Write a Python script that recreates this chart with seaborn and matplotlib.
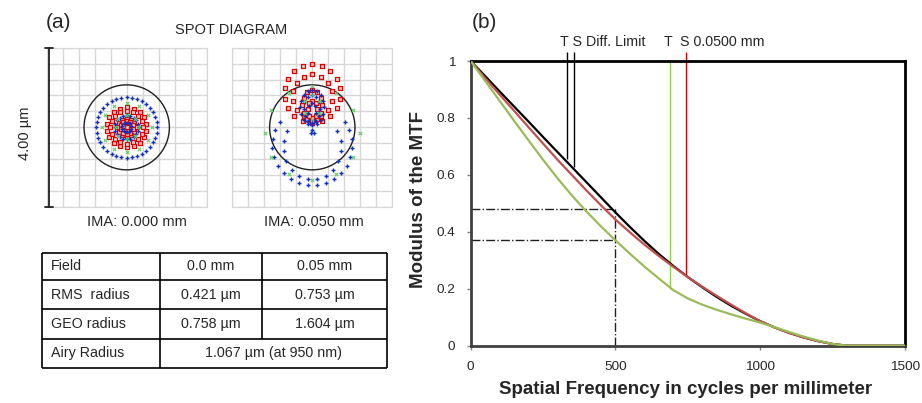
import numpy as np
import pandas as pd
import matplotlib.pyplot as plt
from matplotlib.patches import Circle
import seaborn as sns

W, H = 922, 403

# ---- panel (b): MTF curves ----
freq = [0, 50, 100, 150, 200, 250, 300, 350, 400, 450, 500, 550, 600, 650, 700, 750,
        800, 850, 900, 950, 1000, 1050, 1100, 1150, 1200, 1250, 1300, 1350, 1400, 1450, 1500]
mtf_diff = [1.0, 0.947, 0.893, 0.840, 0.787, 0.733, 0.680, 0.627, 0.574, 0.521, 0.468,
            0.417, 0.368, 0.322, 0.280, 0.241, 0.205, 0.171, 0.140, 0.112, 0.086,
            0.064, 0.045, 0.029, 0.016, 0.006, 0.0, 0.0, 0.0, 0.0, 0.0]
mtf_sag = [1.0, 0.940, 0.882, 0.825, 0.767, 0.710, 0.653, 0.599, 0.545, 0.493, 0.443,
           0.398, 0.355, 0.315, 0.277, 0.241, 0.207, 0.175, 0.144, 0.114, 0.086,
           0.064, 0.045, 0.029, 0.016, 0.006, 0.0, 0.0, 0.0, 0.0, 0.0]
mtf_tan = [1.0, 0.930, 0.860, 0.790, 0.721, 0.653, 0.588, 0.527, 0.471, 0.419, 0.370,
           0.323, 0.278, 0.236, 0.195, 0.166, 0.144, 0.126, 0.110, 0.095, 0.081,
           0.065, 0.048, 0.032, 0.018, 0.006, 0.0, 0.0, 0.0, 0.0, 0.0]

mark_freq = [331, 356, 687, 742]
mark_mtf = [0.656, 0.628, 0.198, 0.244]
mark_top = [1.033, 1.033, 1.0, 1.033]
mark_color = ['black', 'black', '#92D050', '#E00000']

guide_freq = 500
guide_mtf = [0.48, 0.37]

# ---- panel (a): spot diagram rings (µm), angle measured from the top ----
ring_spot = [1, 1, 1, 1, 1, 1, 1, 1, 1, 1, 1,
             2, 2, 2, 2, 2, 2, 2, 2, 2, 2, 2, 2]
ring_color = ['blue', 'blue', 'blue', 'red', 'red', 'red', 'red', 'red', 'red', 'green', 'green',
              'red', 'red', 'red', 'red', 'blue', 'blue', 'blue', 'blue', 'blue', 'blue',
              'green', 'green']
ring_cy = [0, 0, 0, 0, 0, 0, 0, 0, 0, 0, 0,
           0.85, 0.78, 0.55, 0.45, -0.45, -0.50, 0.50, 0.45, 0.35, -0.12, -0.15, 0.50]
ring_rx = [0.76, 0.30, 0.12, 0.50, 0.41, 0.22, 0.16, 0.08, 0.0, 0.62, 0.30,
           0.70, 0.50, 0.25, 0.12, 1.00, 0.72, 0.30, 0.20, 0.10, 0.05, 1.18, 0.20]
ring_ry = [0.76, 0.30, 0.12, 0.50, 0.41, 0.22, 0.16, 0.08, 0.0, 0.62, 0.30,
           0.74, 0.55, 0.38, 0.22, 1.00, 0.82, 0.45, 0.35, 0.25, 0.05, 1.18, 0.30]
ring_n = [36, 20, 10, 18, 16, 12, 10, 6, 1, 12, 8,
          18, 14, 12, 8, 20, 14, 16, 12, 8, 3, 12, 6]
ring_a0 = [0] * 11 + [0, 0, 0, 0, 55, 60, 0, 0, 0, 0, 0, 0]
ring_a1 = [360] * 11 + [360, 360, 360, 360, 305, 300, 360, 360, 360, 360, 360, 360]

airy_radius = 1.067
spot_labels = ['IMA: 0.000 mm', 'IMA: 0.050 mm']

table_rows = ['Field', 'RMS  radius', 'GEO radius', 'Airy Radius']
table_col1 = ['0.0 mm', '0.421 µm', '0.758 µm', '1.067 µm (at 950 nm)']
table_col2 = ['0.05 mm', '0.753 µm', '1.604 µm', None]

sns.set_style('white')
plt.rcParams['font.family'] = ['Liberation Sans', 'DejaVu Sans']


def box(x0, y0, x1, y1):
    return [x0 / W, 1 - y1 / H, (x1 - x0) / W, (y1 - y0) / H]


pts = []
for sp, c, cy, rx, ry, n, a0, a1 in zip(ring_spot, ring_color, ring_cy, ring_rx, ring_ry,
                                        ring_n, ring_a0, ring_a1):
    ang = np.radians(np.linspace(a0, a1, n, endpoint=(a1 - a0) < 360))
    for a in ang:
        pts.append((sp, c, rx * np.sin(a), cy + ry * np.cos(a)))
spots = pd.DataFrame(pts, columns=['spot', 'color', 'x', 'y'])

fig = plt.figure(figsize=(W / 100, H / 100), dpi=100)
canvas = fig.add_axes([0, 0, 1, 1])
canvas.set_xlim(0, W)
canvas.set_ylim(H, 0)
canvas.axis('off')
canvas.set_zorder(5)

styles = {
    'red': dict(marker='s', s=7, color='#F6C8C8', edgecolor='#E00000', linewidth=0.9),
    'blue': dict(marker='+', s=9, color='#1030C0', linewidth=1.0),
    'green': dict(marker='x', s=6, color='#66CC66', linewidth=0.8),
}

for i, x0 in enumerate([46.7, 232.3]):
    ax = fig.add_axes(box(x0, 47.7, x0 + 160, 207))
    sub = spots[spots.spot == i + 1]
    for c in ['red', 'blue', 'green']:
        d = sub[sub.color == c]
        sns.scatterplot(data=d, x='x', y='y', ax=ax, legend=False, zorder=3, **styles[c])
    ax.add_patch(Circle((0, 0), airy_radius, fill=False, ec='#202020', lw=1, zorder=2))
    ax.set_xlim(-2, 2)
    ax.set_ylim(-2, 2)
    ax.set_xticks(np.linspace(-2, 2, 11))
    ax.set_yticks(np.linspace(-2, 2, 11))
    ax.grid(True, color='#D6D6D6', lw=1)
    ax.tick_params(length=0, labelbottom=False, labelleft=False)
    for s in ax.spines.values():
        s.set_color('#D6D6D6')
    ax.set_xlabel('')
    ax.set_ylabel('')
    canvas.text(x0 + 80 + (10 if i == 0 else 1.5), 222, spot_labels[i], ha='center', va='center',
                fontsize=10.5)

# scale bar
canvas.plot([48.5, 48.5], [47.7, 206.7], color='#202020', lw=1.3)
canvas.plot([45, 53], [47.7, 47.7], color='#202020', lw=1.3)
canvas.plot([45, 53], [206.7, 206.7], color='#202020', lw=1.3)
canvas.text(25, 133, '4.00 µm', rotation=90, ha='center', va='center', fontsize=10.5)
canvas.text(46, 23, '(a)', ha='left', va='center', fontsize=15)
canvas.text(231.5, 30, 'SPOT DIAGRAM', ha='center', va='center', fontsize=10.5)

# table
tx = [42.3, 160, 262.3, 386.7]
ty = [252.7, 280, 309.3, 338.7, 368.3]
canvas.hlines(ty, tx[0], tx[-1], color='black', lw=1.2)
canvas.vlines([tx[0], tx[1], tx[3]], ty[0], ty[-1], color='black', lw=1.2)
canvas.vlines(tx[2], ty[0], ty[3], color='black', lw=1.2)
for r in range(4):
    yc = (ty[r] + ty[r + 1]) / 2
    canvas.text(tx[0] + 9, yc, table_rows[r], ha='left', va='center', fontsize=10.3)
    if table_col2[r] is None:
        canvas.text((tx[1] + tx[3]) / 2, yc, table_col1[r], ha='center', va='center', fontsize=10.3)
    else:
        canvas.text((tx[1] + tx[2]) / 2, yc, table_col1[r], ha='center', va='center', fontsize=10.3)
        canvas.text((tx[2] + tx[3]) / 2, yc, table_col2[r], ha='center', va='center', fontsize=10.3)

# MTF panel
mtf = pd.DataFrame({
    'freq': freq * 3,
    'mtf': mtf_diff + mtf_sag + mtf_tan,
    'curve': ['diff'] * len(freq) + ['S'] * len(freq) + ['T'] * len(freq),
})
ax = fig.add_axes(box(470.7, 61, 905, 345.7))
sns.lineplot(data=mtf, x='freq', y='mtf', hue='curve', ax=ax, legend=False, sort=False,
             palette={'diff': '#000000', 'S': '#C0504D', 'T': '#9BBB59'}, lw=1.6, zorder=3)
ax.vlines(mark_freq, mark_mtf, mark_top, colors=mark_color, lw=1, clip_on=False, zorder=2)
ax.hlines(guide_mtf, 0, guide_freq, colors='#202020', lw=1, linestyles='-.', zorder=2)
ax.vlines(guide_freq, 0, guide_mtf[0], colors='#202020', lw=1, linestyles='-.', zorder=2)
ax.set_xlim(0, 1500)
ax.set_ylim(0, 1)
ax.set_xticks([0, 500, 1000, 1500])
ax.set_yticks([0, 0.2, 0.4, 0.6, 0.8, 1])
ax.set_yticklabels(['0', '0.2', '0.4', '0.6', '0.8', '1'])
ax.tick_params(labelsize=9.7, length=3, width=1, color='#808080', pad=8, direction='out',
               bottom=True, left=True)
for k in ['top', 'right']:
    ax.spines[k].set_color('black')
    ax.spines[k].set_linewidth(2)
for k in ['left', 'bottom']:
    ax.spines[k].set_color('#404040')
    ax.spines[k].set_linewidth(2)
ax.set_xlabel('')
ax.set_ylabel('')

canvas.text(686, 389, 'Spatial Frequency in cycles per millimeter', ha='center', va='center',
            fontsize=13.5, fontweight='bold')
canvas.text(418, 200, 'Modulus of the MTF', rotation=90, ha='center', va='center',
            fontsize=13.5, fontweight='bold')
canvas.text(472, 23, '(b)', ha='left', va='center', fontsize=15)
canvas.text(560, 42, 'T S Diff. Limit', ha='left', va='center', fontsize=10.3)
canvas.text(664, 42, 'T', ha='left', va='center', fontsize=10.3)
canvas.text(680, 42, 'S 0.0500 mm', ha='left', va='center', fontsize=10.3)

fig.savefig('out.png', dpi=100)
